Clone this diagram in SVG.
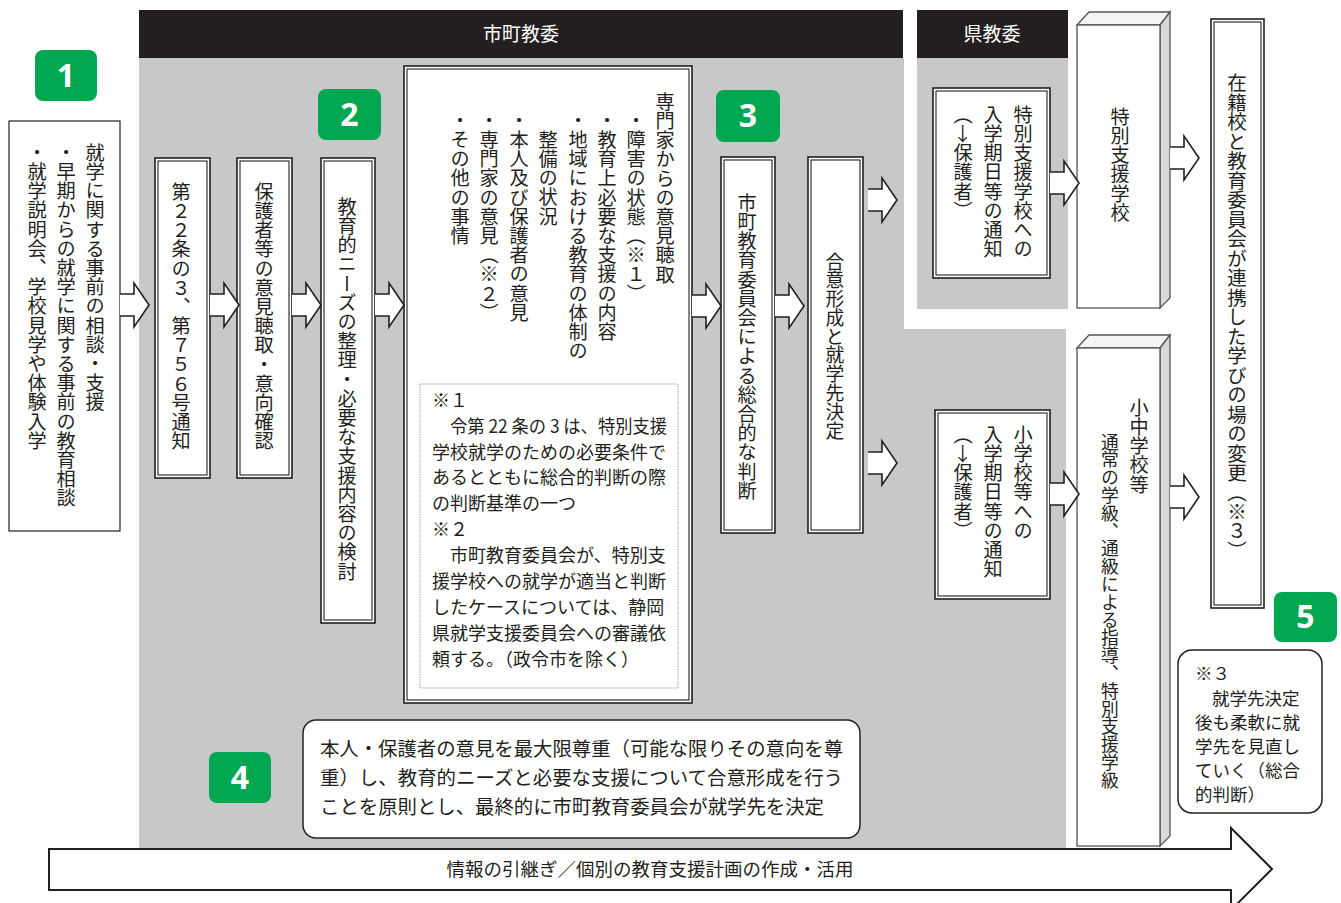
<svg xmlns="http://www.w3.org/2000/svg" width="1341" height="903" viewBox="0 0 1341 903">
<style>
.v{writing-mode:vertical-rl;font-family:"Noto Sans CJK JP","Noto Sans CJK SC",sans-serif;font-size:19.2px;fill:#231f20}
.h{font-family:"Noto Sans CJK JP","Noto Sans CJK SC",sans-serif;fill:#231f20}
.hd{font-family:"Noto Sans CJK JP","Noto Sans CJK SC",sans-serif;font-size:19px;fill:#fff;text-anchor:middle}
.bo{fill:#fff;stroke:#231f20;stroke-width:1.6}
.bi{fill:none;stroke:#231f20;stroke-width:1.1}
.sb{fill:#fff;stroke:#231f20;stroke-width:1.2}
.arr{fill:#fff;stroke:#231f20;stroke-width:1.6;stroke-linejoin:miter}
.bdg{fill:#00a650}
.bt{font-family:"Noto Sans","DejaVu Sans",sans-serif;font-weight:bold;font-size:32px;fill:#fff;text-anchor:middle}
.gray{fill:#c6c8ca}
.blk{fill:#231f20}
.f3{fill:#fff;stroke:#555;stroke-width:1.3}
.side{fill:#d8d8d8;stroke:#555;stroke-width:1.3}
.top{fill:#f4f4f4;stroke:#555;stroke-width:1.3}
.rnd{fill:#fff;stroke:#231f20;stroke-width:1.5}
</style>
<defs>
<path id="ar" d="M0,-11 H14 V-22 L29,0 L14,22 V11 H0"/>
</defs>

<g id="regions">
<path class="gray" d="M139,58 H904 V329 H1066 V849 H139 Z"/>
<rect class="gray" x="917" y="58" width="151" height="251"/>
<rect class="blk" x="139" y="10" width="764" height="48"/>
<rect class="blk" x="917" y="10" width="151" height="48"/>
<text class="hd" x="521" y="41">市町教委</text>
<text class="hd" x="992" y="41">県教委</text>
</g>

<g id="badge1"><rect class="bdg" x="35" y="50" width="62" height="51" rx="8"/><text class="bt" x="66" y="87">1</text></g>
<g id="badge2"><rect class="bdg" x="318" y="89" width="63" height="51" rx="8"/><text class="bt" x="349.5" y="126">2</text></g>
<g id="badge3"><rect class="bdg" x="716" y="90" width="64" height="52" rx="8"/><text class="bt" x="748" y="127">3</text></g>
<g id="badge4"><rect class="bdg" x="209" y="752" width="62" height="51" rx="8"/><text class="bt" x="240" y="789">4</text></g>
<g id="badge5"><rect class="bdg" x="1274" y="592" width="63" height="50" rx="8"/><text class="bt" x="1305.5" y="628">5</text></g>

<g id="n1">
<rect class="sb" x="9" y="121" width="111" height="410"/>
<text class="v" x="95" y="143">就学に関する事前の相談・支援</text>
<text class="v" x="66" y="143">・早期からの就学に関する事前の教育相談</text>
<text class="v" x="37" y="143">・就学説明会、学校見学や体験入学</text>
</g>

<g id="n22">
<rect class="bo" x="155" y="158" width="55" height="320"/><rect class="bi" x="158" y="161" width="49" height="314"/>
<text class="v" x="181" y="182">第２２条の３、第７５６号通知</text>
</g>
<g id="nhogo">
<rect class="bo" x="237" y="158" width="55" height="320"/><rect class="bi" x="240" y="161" width="49" height="314"/>
<text class="v" x="264" y="182">保護者等の意見聴取・意向確認</text>
</g>
<g id="nkyoiku">
<rect class="bo" x="321" y="158" width="54" height="465"/><rect class="bi" x="324" y="161" width="48" height="459"/>
<text class="v" x="347" y="197">教育的ニーズの整理・必要な支援内容の検討</text>
</g>

<g id="nsenmon">
<rect class="bo" x="404" y="66" width="288" height="637"/><rect class="bi" x="407" y="69" width="282" height="631"/>
<text class="v" x="665" y="92">専門家からの意見聴取</text>
<text class="v" x="636" y="111">・障害の状態（※１）</text>
<text class="v" x="607" y="111">・教育上必要な支援の内容</text>
<text class="v" x="578" y="111">・地域における教育の体制の</text>
<text class="v" x="548" y="130">整備の状況</text>
<text class="v" x="519" y="111">・本人及び保護者の意見</text>
<text class="v" x="489" y="111">・専門家の意見（※２）</text>
<text class="v" x="460" y="111">・その他の事情</text>
<rect x="420" y="384" width="258" height="304" fill="none" stroke="#999" stroke-width="0.9" stroke-dasharray="1.5 1"/>
<g class="h" font-size="18">
<text x="432" y="407">※１</text>
<text x="450" y="433" textLength="217" lengthAdjust="spacingAndGlyphs">令第 22 条の 3 は、特別支援</text>
<text x="432" y="459">学校就学のための必要条件で</text>
<text x="432" y="484">あるとともに総合的判断の際</text>
<text x="432" y="510">の判断基準の一つ</text>
<text x="432" y="536">※２</text>
<text x="450" y="562">市町教育委員会が、特別支</text>
<text x="432" y="588">援学校への就学が適当と判断</text>
<text x="432" y="614">したケースについては、静岡</text>
<text x="432" y="640">県就学支援委員会への審議依</text>
<text x="432" y="666">頼する。（政令市を除く）</text>
</g>
</g>

<g id="n3">
<rect class="bo" x="721" y="157" width="54" height="376"/><rect class="bi" x="724" y="160" width="48" height="370"/>
<text class="v" x="747" y="193">市町教育委員会による総合的な判断</text>
</g>
<g id="ngoi">
<rect class="bo" x="808" y="157" width="55" height="376"/><rect class="bi" x="811" y="160" width="49" height="370"/>
<text class="v" x="835" y="252" style="font-size:18.8px">合意形成と就学先決定</text>
</g>

<g id="nken">
<rect class="bo" x="933" y="88" width="117" height="190"/><rect class="bi" x="936" y="91" width="111" height="184"/>
<text class="v" x="1023" y="105">特別支援学校への</text>
<text class="v" x="993" y="105">入学期日等の通知</text>
<text class="v" x="963" y="105">（→保護者）</text>
</g>
<g id="nsho">
<rect class="bo" x="935" y="410" width="115" height="189"/><rect class="bi" x="938" y="413" width="109" height="183"/>
<text class="v" x="1023" y="425">小学校等への</text>
<text class="v" x="993" y="425">入学期日等の通知</text>
<text class="v" x="963" y="425">（→保護者）</text>
</g>

<g id="ntokubetsu">
<polygon class="top" points="1077,25 1089,12 1170,12 1160,25"/>
<polygon class="side" points="1160,25 1170,12 1170,298 1160,308"/>
<rect class="f3" x="1077" y="25" width="83" height="283"/>
<text class="v" x="1120" y="107">特別支援学校</text>
</g>
<g id="nshochu">
<polygon class="top" points="1077,348 1089,335 1170,335 1160,348"/>
<polygon class="side" points="1160,348 1170,335 1170,836 1160,846"/>
<rect class="f3" x="1077" y="348" width="83" height="498"/>
<text class="v" x="1139" y="398">小中学校等</text>
<text class="v" x="1110" y="433" style="font-size:17.8px">通常の学級、通級による指導、特別支援学級</text>
</g>

<g id="nzaiseki">
<rect class="bo" x="1211" y="19" width="53" height="589"/><rect class="bi" x="1214" y="22" width="47" height="583"/>
<text class="v" x="1237" y="73" style="font-size:19.5px">在籍校と教育委員会が連携した学びの場の変更（※３）</text>
</g>

<g id="note4">
<rect class="rnd" x="303" y="720" width="557" height="118" rx="13"/>
<g class="h" font-size="19.4">
<text x="320" y="756" textLength="523" lengthAdjust="spacingAndGlyphs">本人・保護者の意見を最大限尊重（可能な限りその意向を尊</text>
<text x="320" y="785" textLength="523" lengthAdjust="spacingAndGlyphs">重）し、教育的ニーズと必要な支援について合意形成を行う</text>
<text x="320" y="814" textLength="504" lengthAdjust="spacingAndGlyphs">ことを原則とし、最終的に市町教育委員会が就学先を決定</text>
</g>
</g>

<g id="note3">
<rect class="rnd" x="1178" y="650" width="144" height="163" rx="14"/>
<g class="h" font-size="17.5">
<text x="1195" y="680">※３</text>
<text x="1212" y="705">就学先決定</text>
<text x="1195" y="729">後も柔軟に就</text>
<text x="1195" y="753">学先を見直し</text>
<text x="1195" y="777">ていく（総合</text>
<text x="1195" y="801">的判断）</text>
</g>
</g>

<g id="connectors">
<use href="#ar" class="arr" x="120" y="305"/>
<use href="#ar" class="arr" x="210" y="305"/>
<use href="#ar" class="arr" x="292" y="305"/>
<use href="#ar" class="arr" x="375" y="305"/>
<use href="#ar" class="arr" x="692" y="306"/>
<use href="#ar" class="arr" x="775" y="306"/>
<use href="#ar" class="arr" x="868" y="200"/>
<use href="#ar" class="arr" x="868" y="463"/>
<use href="#ar" class="arr" x="1050" y="183"/>
<use href="#ar" class="arr" x="1050" y="494"/>
<use href="#ar" class="arr" x="1170" y="158"/>
<use href="#ar" class="arr" x="1170" y="497"/>
</g>

<g id="flow">
<path d="M49,849 H1231 V828 L1272,869 L1231,910 V890 H49 Z" fill="#fff" stroke="#231f20" stroke-width="2"/>
<text class="h" x="650" y="876" font-size="18.5" text-anchor="middle">情報の引継ぎ／個別の教育支援計画の作成・活用</text>
</g>
</svg>
